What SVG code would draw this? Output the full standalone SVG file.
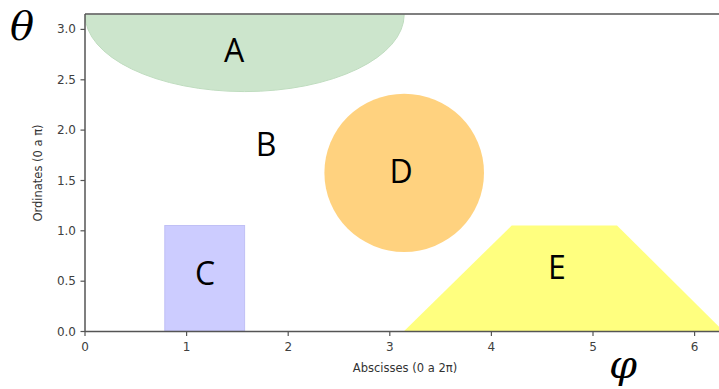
<svg xmlns="http://www.w3.org/2000/svg" width="719" height="389" viewBox="0 0 719 389">
  <style>
    .tick { font-family: "DejaVu Sans", sans-serif; font-size: 12px; fill: #404040; }
    .axlab { font-family: "DejaVu Sans", sans-serif; font-size: 11.5px; fill: #333333; }
    .region { font-family: "Open Sans", "Liberation Sans", sans-serif; font-size: 32px; fill: #000; text-anchor: middle; }
    .greek { font-family: "DejaVu Serif", "Liberation Serif", serif; font-style: italic; font-size: 40px; fill: #000; }
    .spine { stroke: #555; stroke-width: 1.5; fill: none; }
    .tk { stroke: #555; stroke-width: 1.2; }
  </style>
  <defs>
    <clipPath id="plotArea">
      <rect x="85" y="14.5" width="640" height="317"/>
    </clipPath>
  </defs>
  <rect width="719" height="389" fill="#fff"/>

  <!-- shaded regions in data space: x 0..2pi, y 0..pi -->
  <g clip-path="url(#plotArea)">
    <g id="A">
      <ellipse cx="244.6" cy="14.6" rx="159.6" ry="77" fill="#cce5cc" stroke="#bfdcbf" stroke-width="1"/>
      <text class="region" x="234" y="62">A</text>
    </g>
    <g id="B">
      <text class="region" x="266" y="156">B</text>
    </g>
    <g id="C">
      <rect x="164.8" y="225.5" width="79.8" height="105.5" fill="#ccccff" stroke="#c0c0f5" stroke-width="1"/>
      <text class="region" x="205" y="285">C</text>
    </g>
    <g id="D">
      <ellipse cx="404.2" cy="172.8" rx="79.8" ry="79.1" fill="#ffd27f"/>
      <text class="region" x="401" y="183">D</text>
    </g>
    <g id="E">
      <polygon points="404.2,331 511.7,225.5 617,225.5 723.4,331" fill="#ffff7f"/>
      <text class="region" x="557" y="279">E</text>
    </g>
  </g>

  <!-- axes frame -->
  <g id="axes">
    <line class="spine" x1="85" y1="14" x2="719" y2="14"/>
    <line class="spine" x1="85" y1="14" x2="85" y2="331.5"/>
    <line class="spine" x1="85" y1="331.5" x2="719" y2="331.5"/>
    <!-- x ticks -->
    <g class="tk">
      <line x1="85" y1="331.5" x2="85" y2="336"/>
      <line x1="186.6" y1="331.5" x2="186.6" y2="336"/>
      <line x1="288.2" y1="331.5" x2="288.2" y2="336"/>
      <line x1="389.8" y1="331.5" x2="389.8" y2="336"/>
      <line x1="491.4" y1="331.5" x2="491.4" y2="336"/>
      <line x1="593" y1="331.5" x2="593" y2="336"/>
      <line x1="694.6" y1="331.5" x2="694.6" y2="336"/>
      <!-- y ticks -->
      <line x1="80.5" y1="331.5" x2="85" y2="331.5"/>
      <line x1="80.5" y1="281.2" x2="85" y2="281.2"/>
      <line x1="80.5" y1="230.8" x2="85" y2="230.8"/>
      <line x1="80.5" y1="180.5" x2="85" y2="180.5"/>
      <line x1="80.5" y1="130.1" x2="85" y2="130.1"/>
      <line x1="80.5" y1="79.8" x2="85" y2="79.8"/>
      <line x1="80.5" y1="29.4" x2="85" y2="29.4"/>
    </g>
    <g class="tick" text-anchor="middle">
      <text x="85" y="351">0</text>
      <text x="186.6" y="351">1</text>
      <text x="288.2" y="351">2</text>
      <text x="389.8" y="351">3</text>
      <text x="491.4" y="351">4</text>
      <text x="593" y="351">5</text>
      <text x="694.6" y="351">6</text>
    </g>
    <g class="tick" text-anchor="end">
      <text x="76" y="335.5">0.0</text>
      <text x="76" y="285.2">0.5</text>
      <text x="76" y="234.8">1.0</text>
      <text x="76" y="184.5">1.5</text>
      <text x="76" y="134.1">2.0</text>
      <text x="76" y="83.8">2.5</text>
      <text x="76" y="33.4">3.0</text>
    </g>
    <text class="axlab" x="405" y="372" text-anchor="middle">Abscisses (0 a 2π)</text>
    <text class="axlab" transform="translate(42,173) rotate(-90)" text-anchor="middle">Ordinates (0 a π)</text>
    <text class="greek" x="10" y="40">θ</text>
    <text class="greek" x="609" y="378">φ</text>
  </g>
</svg>
